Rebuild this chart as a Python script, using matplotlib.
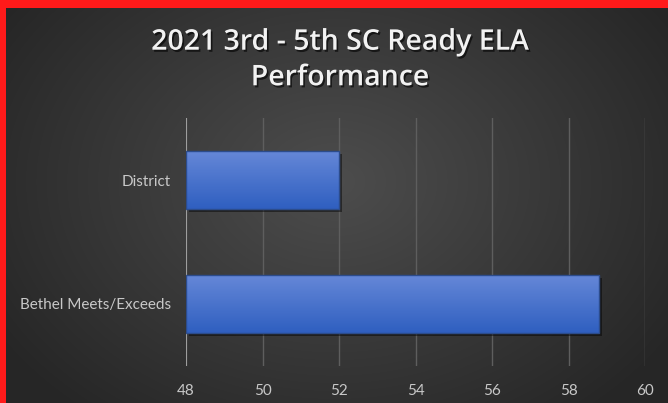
import numpy as np
import matplotlib
matplotlib.use("Agg")
import matplotlib.pyplot as plt
from matplotlib.patches import Rectangle
import matplotlib.patheffects as pe

categories = ["Bethel Meets/Exceeds", "District"]
values = [58.8, 52.0]
xticks = [48, 50, 52, 54, 56, 58, 60]
title = "2021 3rd - 5th SC Ready ELA\nPerformance"

W, H = 668, 403
fig = plt.figure(figsize=(W / 100, H / 100), dpi=100)

# background radial gradient
bg = fig.add_axes([0, 0, 1, 1], zorder=-10)
yy, xx = np.mgrid[0:H, 0:W]
r = np.sqrt(((xx - W * 0.5) / (W * 0.6)) ** 2 + ((yy - H * 0.45) / (H * 0.75)) ** 2)
r = np.clip(r, 0, 1)
c0 = np.array([0x4d, 0x4d, 0x4d]) / 255
c1 = np.array([0x26, 0x26, 0x26]) / 255
img = c0[None, None, :] * (1 - r[..., None]) + c1[None, None, :] * r[..., None]
bg.imshow(img, extent=[0, 1, 0, 1], aspect="auto", origin="upper")
bg.set_axis_off()

# red border (left and top)
fig.patches.append(Rectangle((0, 0), 6 / W, 1, transform=fig.transFigure,
                             facecolor="#ff1a1a", edgecolor="none", zorder=5))
fig.patches.append(Rectangle((0, 1 - 8 / H), 1, 8 / H, transform=fig.transFigure,
                             facecolor="#ff1a1a", edgecolor="none", zorder=5))

ax = fig.add_axes([186 / W, (H - 366) / H, (645 - 186) / W, (366 - 118) / H])
ax.patch.set_alpha(0)
ax.set_xlim(48, 60)
ax.set_ylim(-0.5, 1.5)
ax.set_xticks(xticks)
ax.set_xticklabels([str(t) for t in xticks])
ax.set_yticks(range(len(categories)))
ax.set_yticklabels(categories)
for s in ax.spines.values():
    s.set_visible(False)
ax.tick_params(length=0, colors="#c8c8c8", labelsize=11)
ax.tick_params(axis="x", pad=13)
ax.tick_params(axis="y", pad=11)
for lab in ax.get_xticklabels() + ax.get_yticklabels():
    lab.set_fontfamily("Lato")
ax.grid(axis="x", color="#5e5e5e", linewidth=1)
ax.set_axisbelow(True)
ax.axvline(48, color="#a6a6a6", linewidth=1.3, zorder=1)

ypos = range(len(categories))
widths = [v - 48 for v in values]
# shadow layer
ax.barh(ypos, widths, left=48, height=0.47, facecolor="none", edgecolor="none", zorder=2,
        path_effects=[pe.SimplePatchShadow(offset=(2, -2), shadow_rgbFace="black", alpha=0.45)])
# outline layer
bars = ax.barh(ypos, widths, left=48, height=0.47,
               facecolor="none", edgecolor="#2c4c8c", linewidth=1.0, zorder=3)
grad = np.linspace(0, 1, 100)[:, None]
top = np.array([0x66, 0x88, 0xd8]) / 255
bot = np.array([0x2f, 0x5f, 0xc0]) / 255
gimg = top[None, None, :] * (1 - grad[..., None]) + bot[None, None, :] * grad[..., None]
for b in bars:
    x0, y0 = b.get_x(), b.get_y()
    w, h = b.get_width(), b.get_height()
    im = ax.imshow(gimg, extent=[x0, x0 + w, y0, y0 + h], aspect="auto",
                   origin="upper", zorder=2.5)
    im.set_clip_path(b)
ax.set_xlim(48, 60)
ax.set_ylim(-0.5, 1.5)
ax.set_aspect("auto")

fig.text(340 / W, 1 - 60 / H, title, ha="center", va="center", color="#f2f2f2",
         fontsize=20.5, fontweight="semibold", family="Open Sans", linespacing=1.3,
         path_effects=[pe.withSimplePatchShadow(offset=(1.2, -1.5), shadow_rgbFace="black", alpha=0.6)])

fig.savefig("out.png", dpi=100)
